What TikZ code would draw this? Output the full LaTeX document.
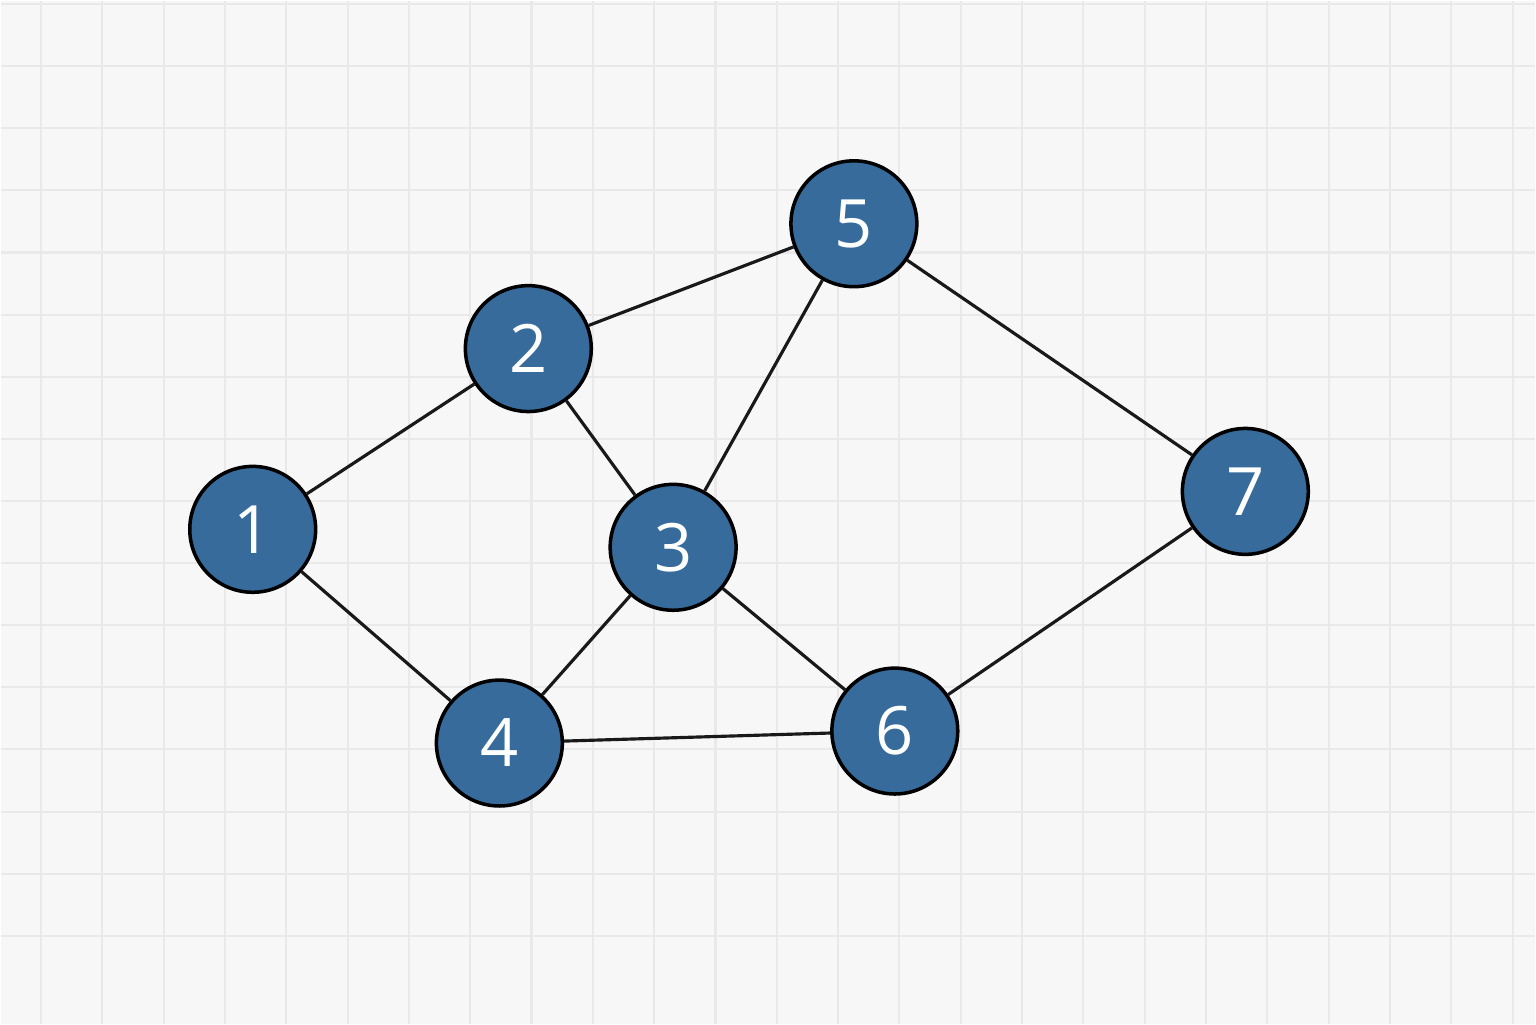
\documentclass[tikz,border=0pt]{standalone}
\usepackage{fontspec}
\setsansfont{Open Sans}
\begin{document}
\begin{tikzpicture}[x=0.01cm,y=-0.01cm,
  vtx/.style={circle,draw=black,line width=1pt,fill=nodeblue,minimum size=1.26cm,inner sep=0pt,text=white,font=\sffamily\fontsize{19}{20}\selectfont},
  edge/.style={line width=0.9pt,draw=black!90}]
\definecolor{nodeblue}{HTML}{366B9B}
\fill[gray!6] (0,0) rectangle (1536,1024);
\foreach \i in {0,...,24} \draw[gray!17,line width=0.6pt] (40+61.4*\i,0) -- (40+61.4*\i,1024);
\foreach \j in {0,...,15} \draw[gray!17,line width=0.6pt] (0,3+62.2*\j) -- (1536,3+62.2*\j);
\useasboundingbox (0,0) rectangle (1536,1024);
\node[vtx] (n1) at (252,529) {1};
\node[vtx] (n2) at (528,348) {2};
\node[vtx] (n3) at (673,547) {3};
\node[vtx] (n4) at (499,743) {4};
\node[vtx] (n5) at (854,223) {5};
\node[vtx] (n6) at (895,731) {6};
\node[vtx] (n7) at (1246,491) {7};
\begin{scope}[on background layer/.style={}]
\end{scope}
\foreach \a/\b in {n1/n2,n1/n4,n2/n5,n2/n3,n3/n5,n3/n4,n3/n6,n4/n6,n5/n7,n6/n7}
  \draw[edge] (\a) -- (\b);
\end{tikzpicture}
\end{document}
